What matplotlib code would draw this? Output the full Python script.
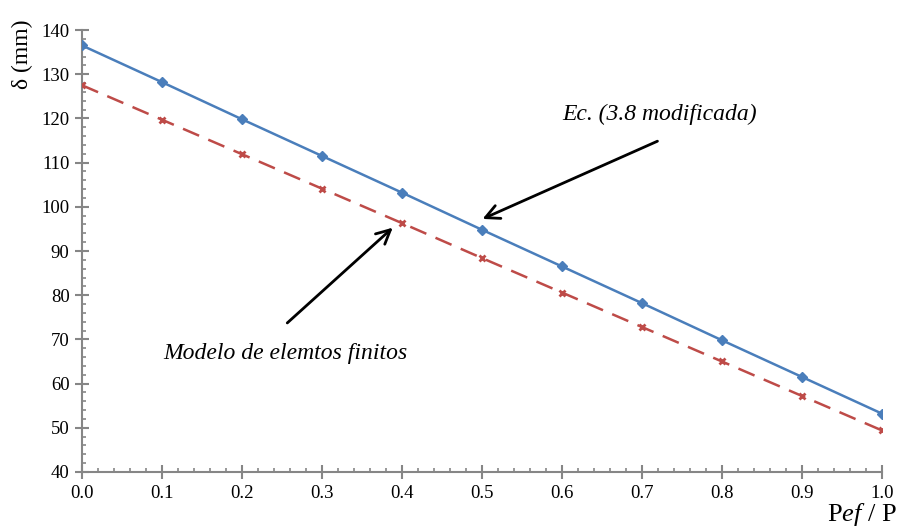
import matplotlib
matplotlib.use("Agg")
import matplotlib.pyplot as plt
from matplotlib.ticker import MultipleLocator

x = [0.0, 0.1, 0.2, 0.3, 0.4, 0.5, 0.6, 0.7, 0.8, 0.9, 1.0]
ec_modificada = [136.5, 128.2, 119.8, 111.5, 103.2, 94.8, 86.5, 78.2, 69.8, 61.5, 53.2]
modelo_fem = [127.5, 119.7, 111.9, 104.1, 96.3, 88.4, 80.6, 72.8, 65.0, 57.2, 49.4]

plt.rcParams['font.family'] = ['Liberation Serif', 'DejaVu Serif']
plt.rcParams['mathtext.fontset'] = 'custom'
plt.rcParams['mathtext.rm'] = 'Liberation Serif'
plt.rcParams['mathtext.it'] = 'Liberation Serif:italic'

fig = plt.figure(figsize=(8.99, 5.27), dpi=100)
ax = fig.add_axes([82/899, 1-472/527, 800/899, 442/527])

ax.plot(x, ec_modificada, color='#4a7ebb', lw=1.8, marker='D', ms=5, zorder=3)
ax.plot(x, modelo_fem, color='#be4b48', lw=1.8, dashes=(7, 4), marker='x', ms=5, mew=2, zorder=3)

ax.set_xlim(0, 1.0)
ax.set_ylim(40, 140)
ax.xaxis.set_major_locator(MultipleLocator(0.1))
ax.xaxis.set_minor_locator(MultipleLocator(0.02))
ax.yaxis.set_major_locator(MultipleLocator(10))
ax.yaxis.set_minor_locator(MultipleLocator(2))
ax.xaxis.set_major_formatter(matplotlib.ticker.FormatStrFormatter('%.1f'))

for s in ['top', 'right']:
    ax.spines[s].set_visible(False)
for s in ['left', 'bottom']:
    ax.spines[s].set_color('#868686')
    ax.spines[s].set_linewidth(1.5)
ax.tick_params(which='major', direction='inout', length=10, width=1.5, color='#868686', labelsize=13.5, pad=4)
ax.tick_params(which='minor', direction='in', length=3, width=1.2, color='#868686')

ax.set_ylabel('δ (mm)', fontsize=17)
ax.yaxis.set_label_coords(-0.061, 0.945)
ax.text(1.019, -0.111, r'P$\mathit{ef}$ / P', transform=ax.transAxes, ha='right', va='baseline', fontsize=19)

ax.annotate('', xy=(0.4975, 97.0), xytext=(0.7225, 115.1),
            arrowprops=dict(arrowstyle='->', color='black', lw=2, mutation_scale=25))
ax.text(0.7225, 120.8, 'Ec. (3.8 modificada)', ha='center', va='center', fontsize=17, style='italic')
ax.annotate('', xy=(0.391, 95.7), xytext=(0.254, 73.3),
            arrowprops=dict(arrowstyle='->', color='black', lw=2, mutation_scale=25))
ax.text(0.254, 66.7, 'Modelo de elemtos finitos', ha='center', va='center', fontsize=17, style='italic')

fig.savefig('out.png', dpi=100)
